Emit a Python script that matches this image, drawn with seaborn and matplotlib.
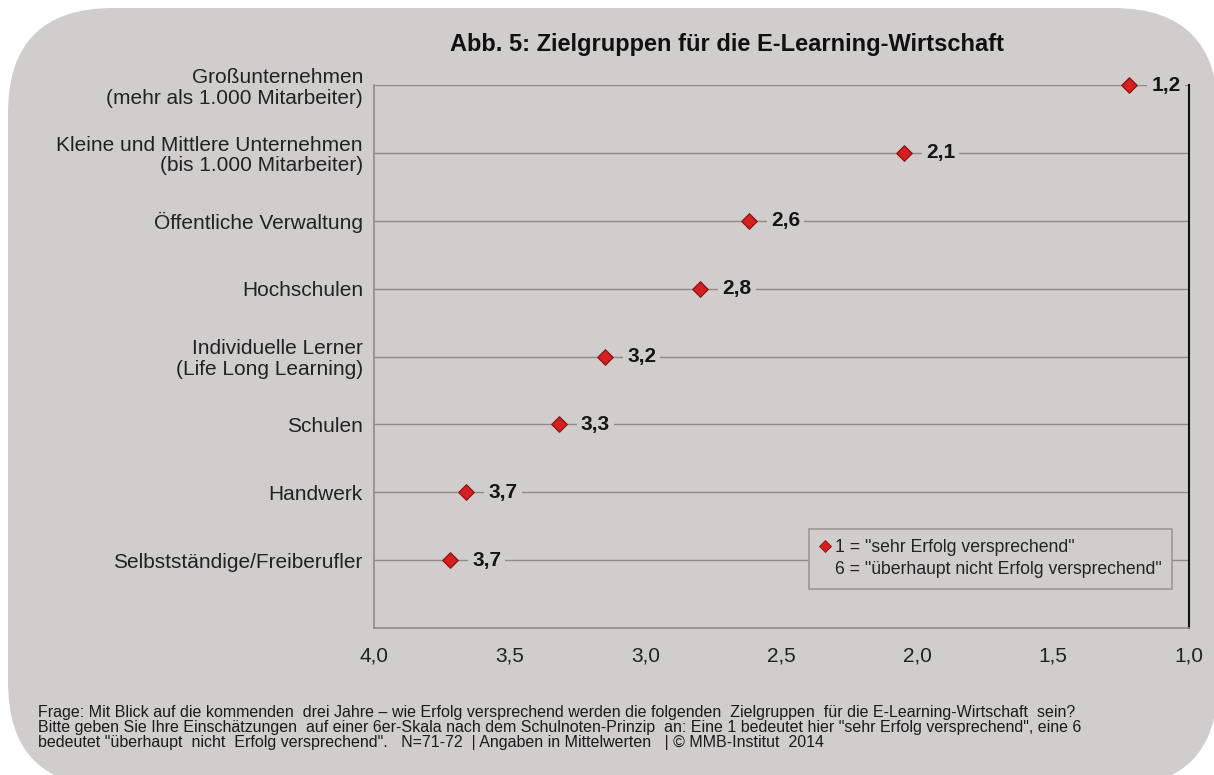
import matplotlib.pyplot as plt
import numpy as np
import pandas as pd
import seaborn as sns
from matplotlib.lines import Line2D
from matplotlib.patches import FancyBboxPatch
from matplotlib.ticker import FuncFormatter
from matplotlib.transforms import IdentityTransform

# Data (mean grade, 1 = best)
categories = [
    "Großunternehmen\n(mehr als 1.000 Mitarbeiter)",
    "Kleine und Mittlere Unternehmen\n(bis 1.000 Mitarbeiter)",
    "Öffentliche Verwaltung",
    "Hochschulen",
    "Individuelle Lerner\n(Life Long Learning)",
    "Schulen",
    "Handwerk",
    "Selbstständige/Freiberufler",
]
values = [1.22, 2.05, 2.62, 2.80, 3.15, 3.32, 3.66, 3.72]
value_labels = ["1,2", "2,1", "2,6", "2,8", "3,2", "3,3", "3,7", "3,7"]
x_ticks = [4.0, 3.5, 3.0, 2.5, 2.0, 1.5, 1.0]

title = "Abb. 5: Zielgruppen für die E-Learning-Wirtschaft"
legend_lines = ['1 = "sehr Erfolg versprechend"',
                '6 = "überhaupt nicht Erfolg versprechend"']
footer_lines = [
    "Frage: Mit Blick auf die kommenden  drei Jahre – wie Erfolg versprechend werden die folgenden  "
    "Zielgruppen  für die E-Learning-Wirtschaft  sein?",
    "Bitte geben Sie Ihre Einschätzungen  auf einer 6er-Skala nach dem Schulnoten-Prinzip  an: "
    "Eine 1 bedeutet hier \"sehr Erfolg versprechend\", eine 6",
    "bedeutet \"überhaupt  nicht  Erfolg versprechend\".   N=71-72  | Angaben in Mittelwerten   "
    "| © MMB-Institut  2014",
]

bg = "#d2cdcd"
grid_col = "#8f8b8b"
red = "#d42020"
dark_red = "#8e1212"

sns.set_style("white")
plt.rcParams["font.family"] = ["Liberation Sans", "DejaVu Sans"]

df = pd.DataFrame({"category": categories, "value": values,
                   "pos": np.arange(len(categories))})

fig = plt.figure(figsize=(12.14, 7.75), dpi=100, facecolor="white")

# rounded grey card behind everything
card = FancyBboxPatch((8, -12), 1210, 775 - 8 + 12,
                      boxstyle="round,pad=0,rounding_size=105",
                      transform=IdentityTransform(), facecolor=bg,
                      edgecolor="none", zorder=-10)
fig.add_artist(card)

ax = fig.add_axes([374 / 1214, 1 - 628 / 775, (1189 - 374) / 1214, (628 - 85) / 775])
ax.set_facecolor("none")

sns.scatterplot(data=df, x="value", y="pos", marker="D", s=62, color=red,
                edgecolor=dark_red, linewidth=0.9, ax=ax, zorder=4, clip_on=False)

ax.set_xlim(4.0, 1.0)
ax.set_ylim(len(categories), 0)

# horizontal reference lines through each category
for p in df["pos"]:
    ax.axhline(p, color=grid_col, linewidth=1.0, zorder=1)

# value labels with a background patch cutting the line
for v, p, lab in zip(values, df["pos"], value_labels):
    ax.annotate(lab, (v, p), xytext=(16, 0), textcoords="offset points",
                ha="left", va="center", fontsize=15, fontweight="bold",
                color="#151515", zorder=5,
                bbox=dict(boxstyle="square,pad=0.2", fc=bg, ec="none"))

ax.set_yticks(df["pos"])
ax.set_yticklabels(categories, fontsize=15, color="#222222", linespacing=1.1)
ax.tick_params(axis="y", length=0, pad=8)

ax.set_xticks(x_ticks)
ax.xaxis.set_major_formatter(FuncFormatter(lambda x, _: f"{x:.1f}".replace(".", ",")))
ax.tick_params(axis="x", length=6, width=1, color=grid_col, labelsize=15,
               labelcolor="#222222", pad=7)
ax.set_xlabel("")
ax.set_ylabel("")

for side in ["left", "bottom"]:
    ax.spines[side].set_color(grid_col)
    ax.spines[side].set_linewidth(1.2)
ax.spines["top"].set_visible(False)
ax.spines["right"].set_color("#111111")
ax.spines["right"].set_linewidth(1.5)

handles = [Line2D([], [], marker="D", linestyle="none", markersize=6,
                  markerfacecolor=red, markeredgecolor=dark_red, markeredgewidth=0.6),
           Line2D([], [], linestyle="none")]
leg = ax.legend(handles, legend_lines, loc="lower right",
                bbox_to_anchor=((1172 - 374) / 815, (628 - 589) / 543),
                borderaxespad=0, fontsize=12.7, frameon=True, fancybox=False,
                handlelength=0.55, handletextpad=0.3, labelspacing=0.3,
                borderpad=0.6)
leg.get_frame().set_facecolor(bg)
leg.get_frame().set_edgecolor("#9c9898")
leg.get_frame().set_linewidth(1.2)
leg.get_frame().set_alpha(1)
for t in leg.get_texts():
    t.set_color("#222222")

fig.text(727 / 1214, 1 - 45 / 775, title, ha="center", va="center",
         fontsize=17, fontweight="bold", color="#111111")

for i, line in enumerate(footer_lines):
    fig.text(38 / 1214, 1 - (712 + 15.5 * i) / 775, line, ha="left", va="center",
             fontsize=11.5, color="#1a1a1a")

fig.savefig("out.png", dpi=100, facecolor="white")
